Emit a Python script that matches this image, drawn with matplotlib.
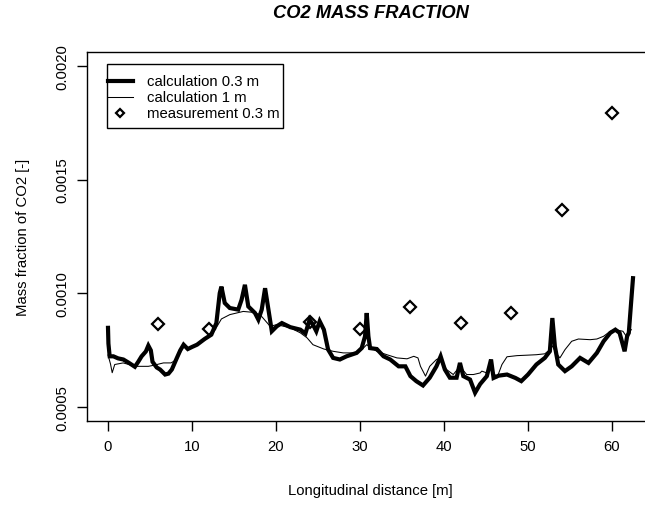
import matplotlib
matplotlib.use("Agg")
import matplotlib.pyplot as plt
from matplotlib.lines import Line2D
from matplotlib.patches import Rectangle

plt.rcParams['font.family'] = ['Liberation Sans', 'DejaVu Sans']

# ---- data ----
calc03_x = [0.0, 0.05, 0.2, 0.64, 1.2, 1.83, 2.5, 3.2, 3.6, 4.0, 4.5, 4.8, 5.1, 5.3, 5.8, 6.2, 6.8, 7.2, 7.6,
            8.2, 8.6, 9.0, 9.5, 10.0, 10.6, 11.5, 12.3, 12.9, 13.3, 13.5, 13.9, 14.5, 15.5, 15.9, 16.3, 16.7,
            17.5, 17.9, 18.3, 18.7, 19.1, 19.5, 20.1, 20.7, 21.7, 22.9, 23.5, 24.0, 24.4, 24.8, 25.2, 25.7,
            26.2, 26.8, 27.6, 28.4, 29.6, 30.2, 30.6, 30.8, 31.0, 31.2, 32.0, 32.8, 33.6, 34.6, 35.4, 36.0,
            36.7, 37.5, 38.3, 39.1, 39.6, 40.1, 40.7, 41.5, 41.9, 42.3, 43.1, 43.7, 44.3, 45.1, 45.6, 45.9,
            46.5, 47.5, 48.5, 49.2, 50.0, 51.0, 52.0, 52.6, 52.9, 53.2, 53.6, 54.4, 55.2, 56.2, 57.2, 58.2,
            59.0, 59.8, 60.4, 60.9, 61.5, 61.8, 62.0, 62.3, 62.5]
calc03_y = [0.000849, 0.000780, 0.000724, 0.000724, 0.000715, 0.000710, 0.000695, 0.000678, 0.000700,
            0.000724, 0.000745, 0.000771, 0.000750, 0.000700, 0.000675, 0.000666, 0.000644, 0.000648,
            0.000666, 0.000717, 0.000750, 0.000775, 0.000756, 0.000765, 0.000775, 0.000800, 0.000819,
            0.000870, 0.001001, 0.001030, 0.000958, 0.000936, 0.000929, 0.000972, 0.001038, 0.000943,
            0.000914, 0.000885, 0.000929, 0.001023, 0.000929, 0.000834, 0.000856, 0.000870, 0.000852,
            0.000841, 0.000824, 0.000885, 0.000863, 0.000834, 0.000878, 0.000841, 0.000754, 0.000717,
            0.000710, 0.000724, 0.000739, 0.000760, 0.000812, 0.000914, 0.000812, 0.000760, 0.000756,
            0.000724, 0.000710, 0.000680, 0.000680, 0.000637, 0.000615, 0.000596, 0.000630, 0.000680,
            0.000724, 0.000666, 0.000630, 0.000630, 0.000695, 0.000637, 0.000622, 0.000564, 0.000602,
            0.000637, 0.000710, 0.000629, 0.000639, 0.000644, 0.000629, 0.000615, 0.000644, 0.000688,
            0.000717, 0.000746, 0.000892, 0.000768, 0.000688, 0.000659, 0.000680, 0.000717, 0.000695,
            0.000739, 0.000790, 0.000827, 0.000841, 0.000827, 0.000746, 0.000812, 0.000827, 0.000972,
            0.001067]

calc1_x = [0.0, 0.3, 0.5, 0.8, 1.8, 3.3, 4.8, 5.5, 6.6, 7.5, 8.2, 9.0, 9.5, 10.6, 11.5, 12.3, 12.9, 13.5,
           14.5, 16.1, 17.3, 18.1, 19.3, 20.1, 21.7, 22.9, 23.7, 24.4, 25.7, 26.8, 28.0, 29.6, 30.4, 30.8,
           31.2, 32.0, 33.2, 34.4, 35.6, 36.4, 36.9, 37.2, 37.8, 38.3, 39.1, 39.6, 40.3, 41.1, 41.9, 42.7,
           43.5, 44.3, 44.5, 45.1, 45.6, 46.3, 46.9, 47.5, 48.7, 49.9, 51.0, 52.0, 52.6, 52.9, 53.3, 53.8,
           54.4, 55.2, 56.0, 57.4, 58.2, 59.0, 59.8, 60.4, 61.3, 61.7, 62.0, 62.3]
calc1_y = [0.000730, 0.000690, 0.000652, 0.000688, 0.000695, 0.000680, 0.000680, 0.000685, 0.000695,
           0.000695, 0.000710, 0.000768, 0.000756, 0.000775, 0.000795, 0.000815, 0.000850, 0.000888,
           0.000907, 0.000921, 0.000917, 0.000907, 0.000856, 0.000863, 0.000849, 0.000827, 0.000805,
           0.000775, 0.000756, 0.000746, 0.000739, 0.000739, 0.000760, 0.000775, 0.000765, 0.000746,
           0.000731, 0.000717, 0.000713, 0.000724, 0.000717, 0.000680, 0.000637, 0.000680, 0.000710,
           0.000717, 0.000666, 0.000644, 0.000680, 0.000644, 0.000644, 0.000651, 0.000659, 0.000651,
           0.000673, 0.000629, 0.000688, 0.000722, 0.000727, 0.000729, 0.000731, 0.000735, 0.000753,
           0.000770, 0.000740, 0.000717, 0.000753, 0.000790, 0.000800, 0.000797, 0.000800, 0.000812,
           0.000834, 0.000841, 0.000834, 0.000812, 0.000827, 0.000841]

meas_x = [6, 12, 24, 30, 36, 42, 48, 54, 60]
meas_y = [0.000867, 0.000844, 0.000873, 0.000844, 0.000940, 0.000870, 0.000914, 0.001365, 0.001790]

x_ticks = [0, 10, 20, 30, 40, 50, 60]
y_ticks = [0.0005, 0.0010, 0.0015, 0.0020]
y_ticklabels = ["0.0005", "0.0010", "0.0015", "0.0020"]
legend_labels = ["calculation 0.3 m", "calculation 1 m", "measurement 0.3 m"]

# ---- figure ----
W, H = 645, 506
FS = 10.7
fig = plt.figure(figsize=(W / 100, H / 100), dpi=100)
left, right, top, bottom = 87, 654, 53, 422
ax = fig.add_axes([left / W, 1 - bottom / H, (right - left) / W, (bottom - top) / H])


def fx(px):
    return px / W


def fy(py):
    return 1 - py / H


ax.plot(calc03_x, calc03_y, color='black', lw=3.0, solid_joinstyle='miter')
ax.plot(calc1_x, calc1_y, color='black', lw=0.75)
ax.plot(meas_x, meas_y, linestyle='none', marker='D', markersize=6.3, markerfacecolor='none',
        markeredgecolor='black', markeredgewidth=1.6)

ax.set_xlim(-2.5, 65)
ax.set_ylim(0.00044, 0.00206)
ax.set_xticks(x_ticks)
ax.set_xticklabels([str(v) for v in x_ticks])
ax.set_yticks(y_ticks)
ax.set_yticklabels(y_ticklabels, rotation=90, va='center')

for s in ax.spines.values():
    s.set_linewidth(1.0)
    s.set_color('black')
ax.tick_params(axis='both', direction='out', length=7.5, width=1.0, labelsize=FS, colors='black')
ax.tick_params(axis='x', pad=5.5)
ax.tick_params(axis='y', pad=5.5)

fig.text(fx((left + right) / 2), fy(13), "CO2 MASS FRACTION", ha='center', va='center',
         fontsize=13.2, fontweight='bold', fontstyle='italic')
fig.text(fx((left + right) / 2), fy(491), "Longitudinal distance [m]", ha='center', va='center',
         fontsize=FS)
fig.text(fx(23), fy((top + bottom) / 2), "Mass fraction of CO2 [-]", ha='center', va='center',
         rotation=90, fontsize=FS)

# ---- legend (R style box) ----
lx0, lx1, ly0, ly1 = 107, 283, 65, 129
fig.add_artist(Rectangle((fx(lx0), fy(ly1)), fx(lx1) - fx(lx0), fy(ly0) - fy(ly1),
                         transform=fig.transFigure, facecolor='white', edgecolor='black', lw=1.0,
                         zorder=5))
rows = [82, 98, 114]
fig.add_artist(Line2D([fx(108), fx(133)], [fy(rows[0])] * 2, transform=fig.transFigure,
                      color='black', lw=3.0, zorder=6))
fig.add_artist(Line2D([fx(108), fx(133)], [fy(rows[1])] * 2, transform=fig.transFigure,
                      color='black', lw=0.75, zorder=6))
fig.add_artist(Line2D([fx(120)], [fy(rows[2])], transform=fig.transFigure, linestyle='none',
                      marker='D', markersize=4.2, markerfacecolor='none', markeredgecolor='black',
                      markeredgewidth=1.6, zorder=6))
for r, lab in zip(rows, legend_labels):
    fig.text(fx(147), fy(r), lab, ha='left', va='center', fontsize=FS, zorder=7)

fig.savefig("out.png", dpi=100)
